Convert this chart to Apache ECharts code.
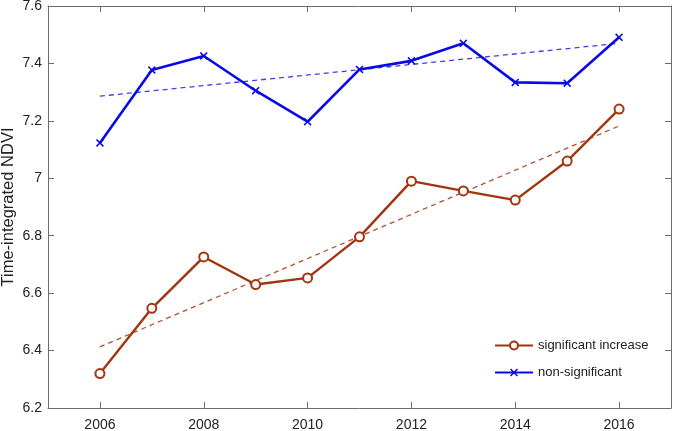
<!DOCTYPE html>
<html><head><meta charset="utf-8">
<script src="https://cdn.jsdelivr.net/npm/echarts@6/dist/echarts.min.js"></script>
<style>html,body{margin:0;padding:0;background:#fff}#c{width:675px;height:431px}</style>
</head><body><div id="c"></div>
<script>
const years = [2006,2007,2008,2009,2010,2011,2012,2013,2014,2015,2016];
const sigIncrease = [6.320,6.547,6.726,6.630,6.653,6.796,6.990,6.956,6.924,7.060,7.241];
const nonSig = [7.123,7.377,7.426,7.305,7.197,7.379,7.409,7.470,7.334,7.331,7.491];
const trendYears = [2006,2016];
const sigTrend = [6.413,7.182];
const nonSigTrend = [7.286,7.470];
const xTicks = [2006,2008,2010,2012,2014,2016];
const yTicks = [6.2,6.4,6.6,6.8,7,7.2,7.4,7.6];

const RED = '#a2350f', BLUE = '#0a0ae6';
const axisCol = '#6b6b6b';
const font = 'Liberation Sans, Arial, sans-serif';
const xMark = 'path://M0,1.4L1.4,0L5,3.6L8.6,0L10,1.4L6.4,5L10,8.6L8.6,10L5,6.4L1.4,10L0,8.6L3.6,5Z';
const pair = (xs, ys) => xs.map((x,i)=>[x, ys[i]]);

const chart = echarts.init(document.getElementById('c'), null, {renderer:'canvas'});
const baseX = {type:'value', min:2005, max:2017, splitLine:{show:false},
  axisLine:{show:true, onZero:false, lineStyle:{color:axisCol, width:1}},
  axisTick:{show:true, inside:true, length:6, customValues:xTicks, lineStyle:{color:axisCol}}};
const baseY = {type:'value', min:6.2, max:7.6, interval:0.2, splitLine:{show:false},
  axisLine:{show:true, onZero:false, lineStyle:{color:axisCol, width:1}},
  axisTick:{show:true, inside:true, length:6, lineStyle:{color:axisCol}}};
chart.setOption({
  animation:false,
  textStyle:{fontFamily:font},
  grid:{left:48, right:4, top:6, bottom:23, containLabel:false, outerBoundsMode:'none'},
  xAxis:[
    Object.assign({}, baseX, {position:'bottom',
      axisLabel:{show:true, customValues:xTicks, margin:10, fontSize:14, color:'#222', fontFamily:font,
        formatter:v=>String(v)}}),
    Object.assign({}, baseX, {position:'top', axisLabel:{show:false}})
  ],
  yAxis:[
    Object.assign({}, baseY, {position:'left',
      name:'Time-integrated NDVI', nameLocation:'middle', nameGap:31, nameMoveOverlap:false,
      nameTextStyle:{fontSize:16.5, color:'#222', fontFamily:font},
      axisLabel:{show:true, margin:6, fontSize:14, color:'#222', fontFamily:font,
        formatter:v=>String(Math.round(v*10)/10)}}),
    Object.assign({}, baseY, {position:'right', axisLabel:{show:false}})
  ],
  legend:{orient:'vertical', left:489, top:334, itemWidth:38, itemHeight:10, itemGap:14,
    data:['significant increase','non-significant'],
    textStyle:{fontSize:13, color:'#222', fontFamily:font}},
  series:[
    {name:'sig-trend', type:'line', data:pair(trendYears, sigTrend), symbol:'none',
      lineStyle:{color:RED, width:1.3, type:[5,4], opacity:0.85}, z:2},
    {name:'nonsig-trend', type:'line', data:pair(trendYears, nonSigTrend), symbol:'none',
      lineStyle:{color:'#2a2ae0', width:1.3, type:[5,4], opacity:0.9}, z:2},
    {name:'significant increase', type:'line', data:pair(years, sigIncrease),
      symbol:'emptyCircle', symbolSize:9, lineStyle:{color:RED, width:2.4},
      itemStyle:{color:RED, borderWidth:1.3}, z:3},
    {name:'non-significant', type:'line', data:pair(years, nonSig),
      symbol:xMark, symbolSize:8, lineStyle:{color:BLUE, width:2.6},
      itemStyle:{color:BLUE}, z:3}
  ]
});
</script></body></html>
